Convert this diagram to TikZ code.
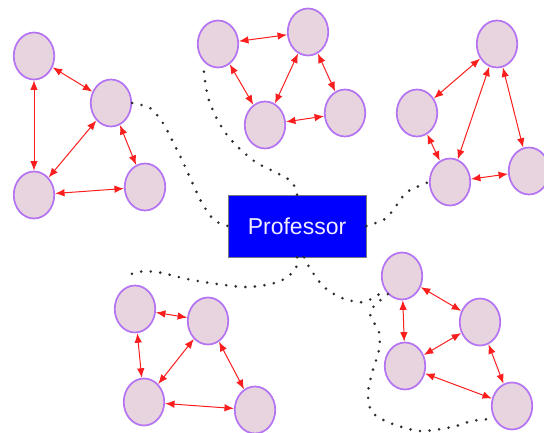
\documentclass[tikz,border=0pt]{standalone}
\usepackage{fontspec}
\setmainfont{Liberation Sans}
\usetikzlibrary{shapes.geometric,arrows.meta}
\definecolor{nodefill}{RGB}{232,212,222}
\definecolor{nodeedge}{RGB}{180,115,242}
\definecolor{dotcol}{RGB}{45,45,45}
\definecolor{bosstext}{RGB}{240,236,255}
\definecolor{bossedge}{RGB}{120,120,130}
\definecolor{linkred}{RGB}{250,30,30}
\begin{document}
\begin{tikzpicture}[x=1pt,y=-1pt,
  member/.style={ellipse, draw=nodeedge, fill=nodefill, line width=1.7pt,
                 minimum width=40.5pt, minimum height=47pt, inner sep=0pt},
  link/.style={linkred, line width=1pt,
               {Latex[length=9.5pt,width=7.5pt]}-{Latex[length=9.5pt,width=7.5pt]}},
  tie/.style={draw=dotcol, line width=2.9pt, line cap=round,
              dash pattern=on 0pt off 9.6pt},
  boss/.style={rectangle, draw=bossedge, line width=0.6pt, fill=blue,
               minimum width=138pt, minimum height=62pt, inner sep=0pt,
               text=bosstext, font=\fontsize{23}{27}\selectfont}]
\useasboundingbox (0,0) rectangle (544,433);

% central node
\node[boss] (Professor) at (297,226) {Professor};

% group on the upper left
\node[member] (A1) at (34,56) {};
\node[member] (A2) at (111,103) {};
\node[member] (A3) at (34,195) {};
\node[member] (A4) at (145,187) {};

% group at the top
\node[member] (B1) at (218,44) {};
\node[member] (B2) at (308,32) {};
\node[member] (B3) at (265,125) {};
\node[member] (B4) at (345,113) {};

% group on the right
\node[member] (C1) at (497,44) {};
\node[member] (C2) at (417,113) {};
\node[member] (C3) at (450,182) {};
\node[member] (C4) at (529,171) {};

% group on the lower left
\node[member] (D1) at (135,309) {};
\node[member] (D2) at (208,321) {};
\node[member] (D3) at (144,402) {};
\node[member] (D4) at (255,410) {};

% group on the lower right
\node[member] (E1) at (402,276) {};
\node[member] (E2) at (480,322) {};
\node[member] (E3) at (405,366) {};
\node[member] (E4) at (512,406) {};

% links inside each group
\foreach \g in {A,B,D,E}{
  \draw[link] (\g1) -- (\g2);
}
\draw[link] (A1) -- (A3);
\draw[link] (A2) -- (A3);
\draw[link] (A2) -- (A4);
\draw[link] (A3) -- (A4);

\draw[link] (B1) -- (B3);
\draw[link] (B2) -- (B3);
\draw[link] (B2) -- (B4);
\draw[link] (B3) -- (B4);

\draw[link] (C1) -- (C2);
\draw[link] (C1) -- (C3);
\draw[link] (C1) -- (C4);
\draw[link] (C2) -- (C3);
\draw[link] (C3) -- (C4);

\draw[link] (D1) -- (D3);
\draw[link] (D2) -- (D3);
\draw[link] (D2) -- (D4);
\draw[link] (D3) -- (D4);

\draw[link] (E1) -- (E3);
\draw[link] (E2) -- (E3);
\draw[link] (E2) -- (E4);
\draw[link] (E3) -- (E4);

% dotted ties from the professor to the groups
\draw[tie] plot[smooth] coordinates {(A2.east) (150,108) (163,123) (172,140)
  (182,160) (192,182) (202,203) (214,220) (Professor.west)};
\draw[tie] plot[smooth] coordinates {(Professor.north) (292,182) (277,173)
  (257,163) (241,150) (227,135) (216,117) (208,97) (204,73) (B1.232)};
\draw[tie] plot[smooth] coordinates {(Professor.east) (385,219) (396,206)
  (407,192) (C3.west)};
\coordinate (Dend) at ([shift={(-8,-8)}]D1.north);
\draw[tie] plot[smooth] coordinates {(Professor.south) (295,270) (278,282)
  (248,287) (217,284) (187,279) (157,272) (137,272) (Dend)};
\draw[tie] plot[smooth] coordinates {([xshift=7pt]Professor.south) (311,270)
  (324,287) (342,298) (364,302) (E1.220)};
\draw[tie] plot[smooth] coordinates {(E1.232) (370,312) (379,332) (379,350)
  (372,373) (368,394) (372,412) (390,423) (420,431) (452,427) (472,421)
  (E4.215)};
\end{tikzpicture}
\end{document}
